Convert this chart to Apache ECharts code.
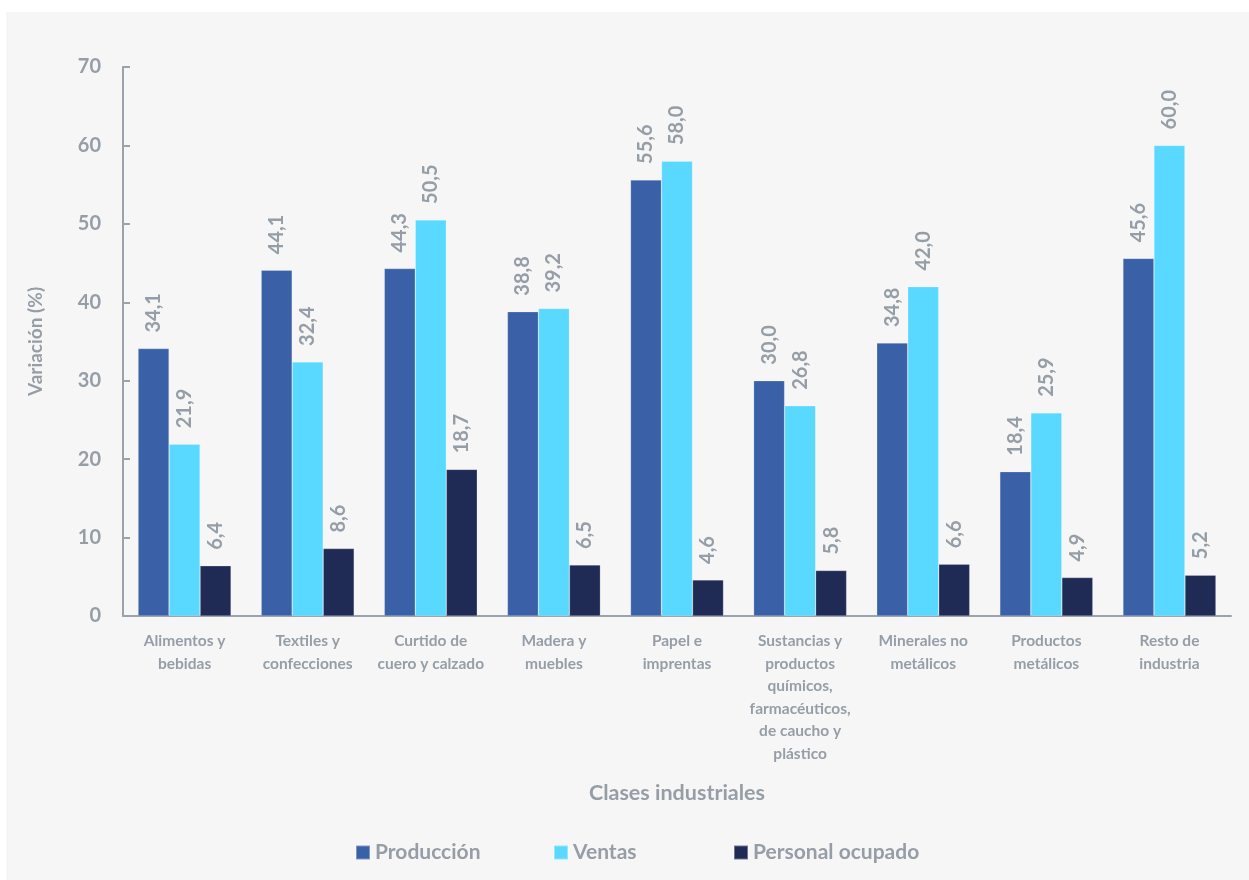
<!DOCTYPE html>
<html>
<head>
<meta charset="utf-8">
<script src="https://cdn.jsdelivr.net/npm/echarts@6/dist/echarts.min.js"></script>
<style>
  html, body { margin: 0; padding: 0; background: #ffffff; width: 1249px; height: 880px; overflow: hidden; }
  #chart { position: absolute; left: 6px; top: 12px; width: 1243px; height: 868px; background: #f6f6f6; }
</style>
</head>
<body>
<div id="chart"></div>
<script>
const categories = [
  "Alimentos y\nbebidas",
  "Textiles y\nconfecciones",
  "Curtido de\ncuero y calzado",
  "Madera y\nmuebles",
  "Papel e\nimprentas",
  "Sustancias y\nproductos\nquímicos,\nfarmacéuticos,\nde caucho y\nplástico",
  "Minerales no\nmetálicos",
  "Productos\nmetálicos",
  "Resto de\nindustria"
];
const produccion = [34.1, 44.1, 44.3, 38.8, 55.6, 30.0, 34.8, 18.4, 45.6];
const ventas = [21.9, 32.4, 50.5, 39.2, 58.0, 26.8, 42.0, 25.9, 60.0];
const personal = [6.4, 8.6, 18.7, 6.5, 4.6, 5.8, 6.6, 4.9, 5.2];
const seriesNames = ["Producción", "Ventas", "Personal ocupado"];
const colors = ["#3a60a7", "#59d9ff", "#1f2a55"];

const gray = "#959ea7";
const font = "Lato, 'Noto Sans', sans-serif";

const chart = echarts.init(document.getElementById('chart'));

function makeSeries(name, data, color) {
  return {
    name: name,
    type: 'bar',
    data: data,
    barWidth: 31,
    barGap: '0%',
    itemStyle: { color: color, borderColor: 'rgba(255,255,255,0.35)', borderWidth: 0.6 },
    label: {
      show: true,
      position: 'top',
      rotate: 90,
      align: 'left',
      verticalAlign: 'middle',
      distance: 16,
      color: gray,
      fontFamily: font,
      fontWeight: 'bold',
      fontSize: 20,
      formatter: p => p.value.toFixed(1).replace('.', ',')
    }
  };
}

const legendLefts = [349, 547, 727];
function makeLegend(i) {
  return {
    data: [seriesNames[i]],
    top: 830,
    left: legendLefts[i],
    padding: 0,
    itemWidth: 14,
    itemHeight: 14,
    icon: 'rect',
    textStyle: { color: gray, fontFamily: font, fontWeight: 'bold', fontSize: 21 }
  };
}

chart.setOption({
  animation: false,
  backgroundColor: '#f6f6f6',
  textStyle: { fontFamily: font },
  grid: { left: 117, top: 55, right: 18, bottom: 264 },
  legend: [makeLegend(0), makeLegend(1), makeLegend(2)],
  xAxis: {
    type: 'category',
    data: categories,
    name: 'Clases industriales',
    nameLocation: 'middle',
    nameGap: 166,
    nameTextStyle: { color: gray, fontFamily: font, fontWeight: 'bold', fontSize: 21.5 },
    axisLine: { lineStyle: { color: '#9aa3ab', width: 2 } },
    axisTick: { show: false },
    axisLabel: {
      color: gray, fontFamily: font, fontWeight: 'bold', fontSize: 15.5,
      lineHeight: 22.5, margin: 14, interval: 0
    }
  },
  yAxis: {
    type: 'value',
    min: 0,
    max: 70,
    interval: 10,
    name: 'Variación (%)',
    nameLocation: 'middle',
    nameGap: 78,
    nameTextStyle: { color: gray, fontFamily: font, fontWeight: 'bold', fontSize: 19 },
    axisLine: { show: true, lineStyle: { color: '#9aa3ab', width: 2 } },
    axisTick: { show: true, inside: true, length: 7, lineStyle: { color: '#9aa3ab', width: 2 } },
    splitLine: { show: false },
    axisLabel: { color: gray, fontFamily: font, fontWeight: 'bold', fontSize: 20, margin: 22 }
  },
  series: [
    makeSeries(seriesNames[0], produccion, colors[0]),
    makeSeries(seriesNames[1], ventas, colors[1]),
    makeSeries(seriesNames[2], personal, colors[2])
  ]
});
</script>
</body>
</html>
